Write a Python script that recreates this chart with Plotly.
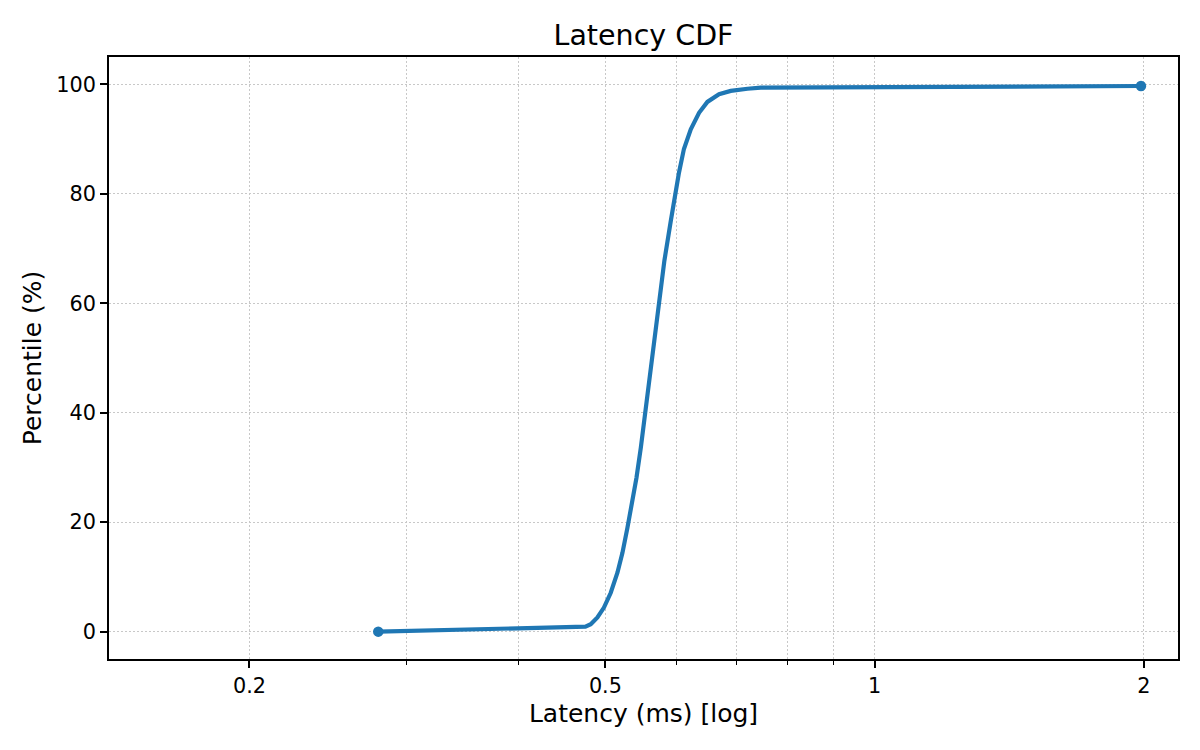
import math
import plotly.graph_objects as go

# Data (latency in ms, percentile in %)
latency_ms = [0.2786, 0.4749, 0.4815, 0.4898, 0.4981, 0.5069, 0.5158, 0.5224,
              0.5292, 0.5361, 0.5416, 0.5477, 0.5538, 0.5596, 0.5653, 0.5722,
              0.5820, 0.5916, 0.5980, 0.6043, 0.6120, 0.6229, 0.6363, 0.6501,
              0.6699, 0.6904, 0.7208, 0.7460, 1.985]
percentile = [0.0, 0.9, 1.35, 2.6, 4.4, 7.1, 10.8, 14.4,
              19.0, 23.9, 28.1, 33.6, 40.0, 46.4, 51.9, 59.3,
              67.8, 75.0, 79.6, 83.9, 88.2, 91.8, 94.8, 96.8,
              98.2, 98.8, 99.2, 99.4, 99.7]

x_tick_vals = [0.2, 0.5, 1, 2]
x_tick_text = ["0.2", "0.5", "1", "2"]
x_minor_vals = [0.3, 0.4, 0.6, 0.7, 0.8, 0.9]
y_tick_vals = [0, 20, 40, 60, 80, 100]

BLUE = "#1f77b4"
FONT = "DejaVu Sans"
GRID = "#c8c8c8"
DASH = "1.5px,2.5px"

# page body has an 8px margin; size the figure to fill the 1200x750 window
W, H = 1192, 742

fig = go.Figure()
fig.add_trace(go.Scatter(
    x=latency_ms, y=percentile, mode="lines",
    line=dict(color=BLUE, width=4.2),
    showlegend=False, hoverinfo="skip"))
fig.add_trace(go.Scatter(
    x=[latency_ms[0], latency_ms[-1]], y=[percentile[0], percentile[-1]],
    mode="markers", marker=dict(color=BLUE, size=10.5), showlegend=False))

xmin = math.log10(min(latency_ms) * 0.5)
xmax = math.log10(max(latency_ms) * 1.1)

fig.update_layout(
    width=W, height=H,
    margin=dict(l=101, r=22, t=49, b=91),
    paper_bgcolor="white", plot_bgcolor="white",
    font=dict(family=FONT, color="black", size=20.8),
    title=dict(text="Latency CDF", x=0.5, xref="paper", xanchor="center",
               y=1 - 27 / H, yref="container", yanchor="middle",
               font=dict(family=FONT, size=28.5, color="black")),
    xaxis=dict(
        type="log", range=[xmin, xmax],
        tickmode="array", tickvals=x_tick_vals, ticktext=x_tick_text,
        ticks="outside", ticklen=7, tickwidth=1.7, tickcolor="black",
        showline=True, linecolor="black", linewidth=1.7, mirror=True,
        showgrid=True, gridcolor=GRID, gridwidth=1.2, griddash=DASH,
        minor=dict(tickmode="array", tickvals=x_minor_vals, ticks="outside",
                   ticklen=4, tickwidth=1.2, tickcolor="black",
                   showgrid=True, gridcolor=GRID, gridwidth=1.2,
                   griddash=DASH),
        tickfont=dict(family=FONT, size=20.8, color="black"),
        title=dict(text="Latency (ms) [log]", standoff=8,
                   font=dict(family=FONT, size=25, color="black")),
        zeroline=False,
    ),
    yaxis=dict(
        range=[-5, 105], tickmode="array", tickvals=y_tick_vals,
        ticks="outside", ticklen=7, tickwidth=1.7, tickcolor="black",
        showline=True, linecolor="black", linewidth=1.7, mirror=True,
        showgrid=True, gridcolor=GRID, gridwidth=1.2, griddash=DASH,
        tickfont=dict(family=FONT, size=20.8, color="black"),
        title=dict(text="Percentile (%)", standoff=8,
                   font=dict(family=FONT, size=25, color="black")),
        zeroline=False,
    ),
)

fig.write_html("out.html")
